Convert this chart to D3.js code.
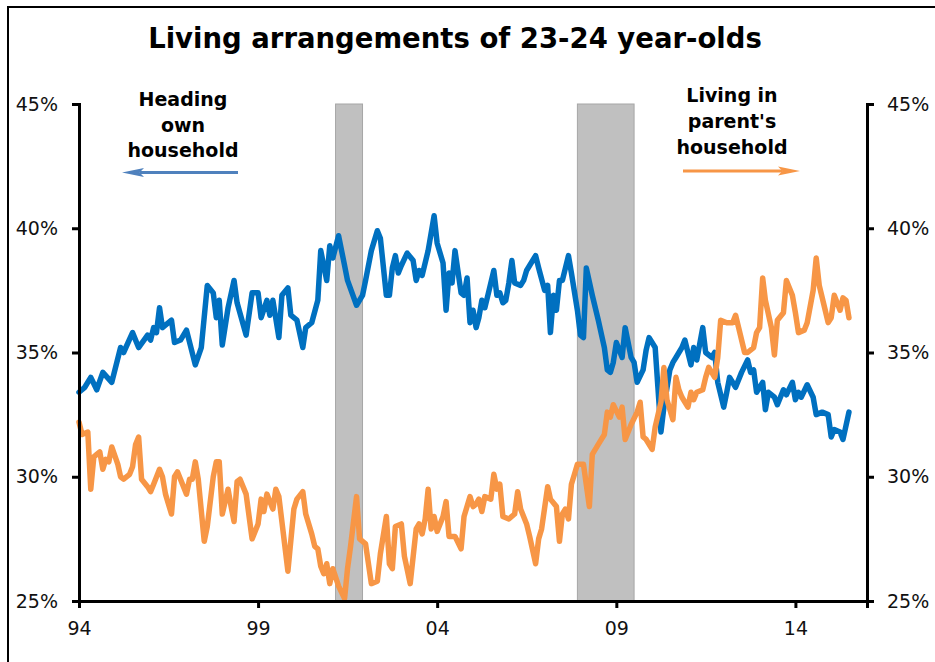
<!DOCTYPE html>
<html>
<head>
<meta charset="utf-8">
<script src="https://cdn.jsdelivr.net/npm/d3@7"></script>
<style>
  body { margin: 0; background: #fff; }
  svg { display: block; }
</style>
</head>
<body>
<div id="vis"></div>
<script>
const FRAME_WIDTH = 935;
const FRAME_HEIGHT = 662;
const MARGINS = {left: 79, right: 68, top: 104, bottom: 61};

const VIS_WIDTH = FRAME_WIDTH - MARGINS.left - MARGINS.right;
const VIS_HEIGHT = FRAME_HEIGHT - MARGINS.top - MARGINS.bottom;

// heading own household (left axis), percent
const BLUE_DATES = [
  "1994-01","1994-03","1994-05","1994-07","1994-09","1994-12",
  "1995-03","1995-04","1995-07","1995-09","1995-12",
  "1996-01","1996-02","1996-03","1996-04","1996-05","1996-08","1996-09","1996-11",
  "1997-01","1997-04","1997-06","1997-08","1997-10","1997-11","1997-12",
  "1998-01","1998-03","1998-05","1998-06","1998-09","1998-11",
  "1999-01","1999-02","1999-04","1999-05","1999-06","1999-08","1999-09","1999-11","1999-12",
  "2000-02","2000-04","2000-05","2000-07","2000-09","2000-10","2000-12",
  "2001-01","2001-02","2001-04","2001-06","2001-07","2001-10","2001-12",
  "2002-01","2002-03","2002-05","2002-06","2002-08","2002-09","2002-10","2002-11","2002-12",
  "2003-01","2003-03","2003-05","2003-06","2003-07","2003-08","2003-10","2003-12",
  "2004-01","2004-03","2004-04","2004-05","2004-06","2004-07","2004-09","2004-10","2004-11","2004-12",
  "2005-01","2005-02","2005-03","2005-04","2005-05","2005-06","2005-08","2005-09","2005-10","2005-11","2005-12",
  "2006-01","2006-02","2006-03","2006-05","2006-06","2006-07","2006-08","2006-10","2006-11",
  "2007-01","2007-02","2007-03","2007-04","2007-05","2007-06","2007-07","2007-09","2007-10","2007-12",
  "2008-01","2008-02","2008-03","2008-05","2008-07","2008-09","2008-10","2008-11","2008-12",
  "2009-01","2009-03","2009-04","2009-06","2009-07","2009-08","2009-10","2009-11","2009-12",
  "2010-02","2010-03","2010-04","2010-05","2010-07","2010-08","2010-09","2010-11","2010-12",
  "2011-02","2011-03","2011-04","2011-06","2011-07","2011-09","2011-10","2011-11",
  "2012-01","2012-02","2012-03","2012-05","2012-07","2012-09","2012-10","2012-11","2012-12",
  "2013-02","2013-03","2013-04","2013-06","2013-07","2013-09","2013-10","2013-12",
  "2014-01","2014-02","2014-03","2014-05","2014-07","2014-08","2014-10","2014-12",
  "2015-01","2015-02","2015-04","2015-05","2015-07"
];
const BLUE_VALUES = [
  33.4,33.6,34.0,33.5,34.2,33.8,
  35.2,35.0,35.8,35.2,35.7,
  35.5,36.0,35.8,36.8,36.0,36.3,35.4,35.5,
  35.9,34.5,35.2,37.7,37.4,36.4,37.1,
  35.3,36.8,37.9,37.0,35.7,37.4,
  37.4,36.4,37.1,36.5,37.1,35.6,37.3,37.6,36.5,
  36.3,35.2,36.0,36.2,37.1,39.1,37.9,
  39.3,38.8,39.7,38.5,37.9,36.9,37.3,
  37.9,39.1,39.9,39.6,37.3,37.3,38.4,38.9,38.2,
  38.5,39.0,38.7,37.9,38.3,38.1,39.1,40.5,
  39.4,38.6,36.7,38.2,37.8,39.1,37.4,37.3,38.0,36.2,
  36.7,36.0,36.4,37.1,36.8,37.3,38.3,37.3,37.4,37.0,37.1,
  37.8,38.7,37.8,37.7,37.9,38.3,38.5,38.9,38.4,
  37.5,37.7,35.8,37.3,36.7,37.9,37.9,38.9,38.2,36.7,
  35.7,35.6,38.4,37.3,36.3,35.2,34.3,34.2,34.6,
  35.4,34.8,36.0,34.8,34.6,33.8,34.3,35.1,35.6,
  35.2,33.6,31.8,32.8,34.3,34.6,34.8,35.2,35.5,
  34.5,35.2,34.7,36.0,35.0,34.8,35.0,33.8,
  32.8,33.4,34.0,33.6,34.2,34.7,34.2,34.3,33.4,
  33.8,32.7,33.4,33.2,32.9,33.5,33.3,33.8,
  33.1,33.4,33.2,33.7,33.2,32.5,32.6,32.5,
  31.6,31.9,31.8,31.5,32.6
];

// living in parent's household (right axis), percent
const ORANGE_DATES = [
  "1994-01","1994-02","1994-04","1994-05","1994-06","1994-07","1994-08","1994-09","1994-10","1994-11","1994-12",
  "1995-02","1995-03","1995-04","1995-06","1995-07","1995-08","1995-09","1995-10","1995-12",
  "1996-01","1996-02","1996-04","1996-05","1996-06","1996-08","1996-09","1996-10","1996-11",
  "1997-01","1997-02","1997-03","1997-04","1997-05","1997-07","1997-08","1997-10","1997-11","1997-12",
  "1998-01","1998-03","1998-04","1998-05","1998-06","1998-07","1998-09","1998-11",
  "1999-01","1999-02","1999-03","1999-04","1999-06","1999-07","1999-08","1999-11",
  "2000-01","2000-02","2000-04","2000-05","2000-07","2000-08","2000-09","2000-10","2000-11","2000-12",
  "2001-01","2001-02","2001-04","2001-06","2001-07","2001-08","2001-10","2001-11",
  "2002-01","2002-03","2002-05","2002-06","2002-08","2002-09","2002-10","2002-11",
  "2003-01","2003-02","2003-04","2003-06","2003-07","2003-08","2003-09","2003-10","2003-11","2003-12",
  "2004-01","2004-03","2004-04","2004-05","2004-07","2004-09","2004-10","2004-12",
  "2005-01","2005-02","2005-03","2005-04","2005-05","2005-07","2005-08","2005-09","2005-10","2005-11",
  "2006-01","2006-03","2006-04","2006-05","2006-07","2006-08","2006-10","2006-11","2006-12",
  "2007-02","2007-03","2007-05","2007-06","2007-07","2007-08","2007-09","2007-10","2007-11","2007-12",
  "2008-02","2008-04","2008-05","2008-07","2008-09","2008-10","2008-11","2008-12",
  "2009-02","2009-03","2009-04","2009-06","2009-08","2009-09","2009-10","2009-11",
  "2010-01","2010-02","2010-04","2010-05","2010-06","2010-08","2010-09","2010-10","2010-11",
  "2011-01","2011-02","2011-03","2011-04","2011-06","2011-07","2011-08","2011-10","2011-11","2011-12",
  "2012-02","2012-03","2012-04","2012-05","2012-06","2012-08","2012-09","2012-11","2012-12",
  "2013-01","2013-02","2013-03","2013-05","2013-06","2013-07","2013-09","2013-10","2013-12",
  "2014-01","2014-02","2014-04","2014-05","2014-07","2014-08","2014-09","2014-11","2014-12",
  "2015-01","2015-02","2015-04","2015-05","2015-06","2015-07"
];
const ORANGE_VALUES = [
  32.2,31.7,31.8,29.5,30.8,30.9,31.0,30.3,30.7,30.6,31.2,
  30.5,30.0,29.9,30.1,30.4,31.3,31.6,29.9,29.6,
  29.4,29.7,30.3,30.0,29.3,28.5,30.0,30.2,29.9,
  29.3,29.9,29.9,30.6,29.9,27.4,28.0,30.0,30.6,30.6,
  28.5,29.5,28.8,28.2,29.8,29.9,29.3,27.5,
  28.1,29.1,28.6,29.3,28.7,29.5,29.2,26.2,
  28.7,29.1,29.4,28.5,27.7,27.2,27.1,26.4,26.1,26.5,
  25.7,26.3,25.6,25.1,26.3,27.2,29.2,27.5,
  27.3,25.7,25.8,26.9,28.4,26.5,26.3,28.0,
  28.1,26.8,25.7,27.9,28.1,27.7,28.3,29.5,27.9,28.4,
  27.8,28.4,29.0,27.6,27.6,27.1,28.4,29.2,
  28.8,28.9,29.1,28.6,29.2,29.1,30.1,29.5,29.7,28.4,
  28.3,28.5,29.4,28.7,28.1,27.6,26.5,27.5,27.9,
  29.6,29.1,28.8,27.4,28.5,28.7,28.3,29.7,30.1,30.5,
  30.5,28.8,30.9,31.3,31.7,32.6,32.4,32.9,
  32.4,32.8,31.5,32.1,32.6,33.0,31.6,31.5,
  31.1,32.0,33.0,34.4,33.1,32.3,34.0,33.5,33.2,
  32.8,33.4,33.1,33.4,33.5,34.0,34.4,34.0,34.8,36.3,
  36.2,36.2,36.2,36.5,36.0,35.0,35.0,35.2,35.8,
  36.0,38.0,37.1,36.0,34.9,36.3,36.6,37.9,37.3,
  36.6,35.8,35.9,36.2,37.5,38.8,37.7,36.7,36.2,
  36.4,37.3,36.7,37.2,37.1,36.4
];

// recessions: first and last month
const RECESSION_STARTS = ["2001-03", "2007-12"];
const RECESSION_ENDS = ["2001-11", "2009-06"];

const Y_TICKS = [25, 30, 35, 40, 45];
const X_TICKS = ["1994-01", "1999-01", "2004-01", "2009-01", "2014-01"];

const TITLE = "Living arrangements of 23-24 year-olds";
const LEFT_NOTE = ["Heading", "own", "household"];
const RIGHT_NOTE = ["Living in", "parent's", "household"];

const BLUE = "#0070c0";
const ORANGE = "#f79646";

const parseMonth = d3.timeParse("%Y-%m");

const blueData = BLUE_DATES.map((d, i) => ({date: parseMonth(d), value: BLUE_VALUES[i]}));
const orangeData = ORANGE_DATES.map((d, i) => ({date: parseMonth(d), value: ORANGE_VALUES[i]}));

const FRAME = d3.select("#vis")
                .append("svg")
                .attr("width", FRAME_WIDTH)
                .attr("height", FRAME_HEIGHT);

// outer border (only top and left show inside the window)
FRAME.append("rect")
     .attr("x", 8).attr("y", 7)
     .attr("width", 1200).attr("height", 1200)
     .attr("fill", "none")
     .attr("stroke", "#000")
     .attr("stroke-width", 2);

FRAME.append("text")
     .attr("x", 455).attr("y", 48)
     .attr("text-anchor", "middle")
     .attr("font-family", "DejaVu Sans")
     .attr("font-weight", "bold")
     .attr("font-size", 27.5)
     .text(TITLE);

const X_SCALE = d3.scaleTime()
                  .domain([parseMonth("1994-01"), parseMonth("2016-01")])
                  .range([0, VIS_WIDTH]);

const LEFT_SCALE = d3.scaleLinear()
                     .domain([25, 45])
                     .range([VIS_HEIGHT, 0]);

const RIGHT_SCALE = d3.scaleLinear()
                      .domain([25, 45])
                      .range([VIS_HEIGHT, 0]);

const plot = FRAME.append("g")
                  .attr("transform", "translate(" + MARGINS.left + "," + MARGINS.top + ")");

// recession shading
plot.selectAll(".recession")
    .data(RECESSION_STARTS)
    .enter()
    .append("rect")
      .attr("class", "recession")
      .attr("x", (d) => X_SCALE(parseMonth(d)))
      .attr("y", 0)
      .attr("width", (d, i) => X_SCALE(d3.timeMonth.offset(parseMonth(RECESSION_ENDS[i]), 1)) - X_SCALE(parseMonth(d)))
      .attr("height", VIS_HEIGHT)
      .attr("fill", "#c0c0c0")
      .attr("stroke", "#a6a6a6")
      .attr("stroke-width", 1);

const blueLine = d3.line()
                   .x((d) => X_SCALE(d.date))
                   .y((d) => LEFT_SCALE(d.value));

const orangeLine = d3.line()
                     .x((d) => X_SCALE(d.date))
                     .y((d) => RIGHT_SCALE(d.value));

plot.append("path")
    .datum(blueData)
    .attr("d", blueLine)
    .attr("fill", "none")
    .attr("stroke", BLUE)
    .attr("stroke-width", 5.5)
    .attr("stroke-linejoin", "round")
    .attr("stroke-linecap", "round");

plot.append("path")
    .datum(orangeData)
    .attr("d", orangeLine)
    .attr("fill", "none")
    .attr("stroke", ORANGE)
    .attr("stroke-width", 5.5)
    .attr("stroke-linejoin", "round")
    .attr("stroke-linecap", "round");

// axes
const xAxis = plot.append("g")
                  .attr("transform", "translate(0," + VIS_HEIGHT + ")")
                  .call(d3.axisBottom(X_SCALE)
                          .tickValues(X_TICKS.map(parseMonth))
                          .tickFormat(d3.timeFormat("%y"))
                          .tickSizeOuter(0)
                          .tickSize(7)
                          .tickPadding(14));

const leftAxis = plot.append("g")
                     .call(d3.axisLeft(LEFT_SCALE)
                             .tickValues(Y_TICKS)
                             .tickFormat((d) => d + "%")
                             .tickSizeOuter(0)
                             .tickSize(7)
                             .tickPadding(14));

const rightAxis = plot.append("g")
                      .attr("transform", "translate(" + VIS_WIDTH + ",0)")
                      .call(d3.axisRight(RIGHT_SCALE)
                              .tickValues(Y_TICKS)
                              .tickFormat((d) => d + "%")
                              .tickSizeOuter(0)
                              .tickSize(7)
                              .tickPadding(13));

[xAxis, leftAxis, rightAxis].forEach((ax) => {
  ax.select(".domain").attr("stroke", "#000").attr("stroke-width", 3);
  ax.selectAll(".tick line").attr("stroke", "#000").attr("stroke-width", 3);
  ax.selectAll(".tick text")
    .attr("font-family", "DejaVu Sans")
    .attr("font-size", 19)
    .attr("fill", "#111");
});

// annotations
const leftNote = FRAME.append("text")
                      .attr("text-anchor", "middle")
                      .attr("font-family", "DejaVu Sans")
                      .attr("font-weight", "bold")
                      .attr("font-size", 19);
LEFT_NOTE.forEach((t, i) => {
  leftNote.append("tspan").attr("x", 183).attr("y", 106 + i * 25.5).text(t);
});

const rightNote = FRAME.append("text")
                       .attr("text-anchor", "middle")
                       .attr("font-family", "DejaVu Sans")
                       .attr("font-weight", "bold")
                       .attr("font-size", 19);
RIGHT_NOTE.forEach((t, i) => {
  rightNote.append("tspan").attr("x", 732).attr("y", 102 + i * 26).text(t);
});

function arrow(x1, x2, y, color) {
  const dir = x2 > x1 ? 1 : -1;
  const headLen = 22;
  FRAME.append("line")
       .attr("x1", x1).attr("y1", y)
       .attr("x2", x2 - dir * headLen * 0.8).attr("y2", y)
       .attr("stroke", color)
       .attr("stroke-width", 3);
  FRAME.append("path")
       .attr("d", "M" + x2 + "," + y +
                  "L" + (x2 - dir * headLen) + "," + (y - 4.5) +
                  "L" + (x2 - dir * headLen * 0.8) + "," + y +
                  "L" + (x2 - dir * headLen) + "," + (y + 4.5) + "Z")
       .attr("fill", color);
}

arrow(238, 122, 172.5, "#4f81bd");
arrow(683, 800, 171, ORANGE);
</script>
</body>
</html>
